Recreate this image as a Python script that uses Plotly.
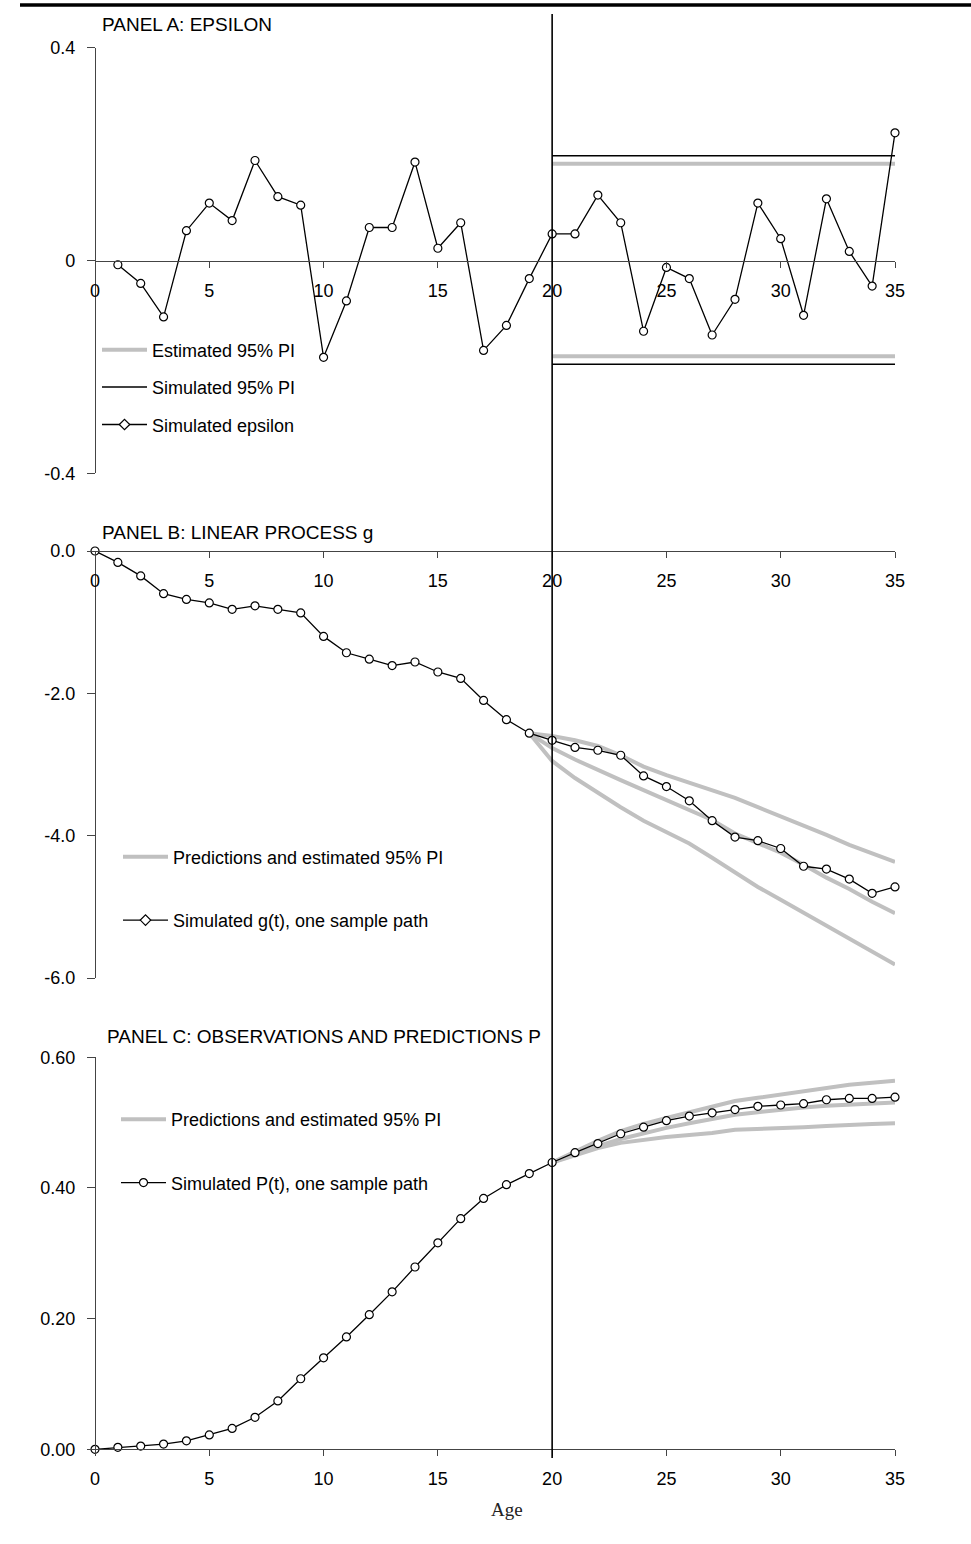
import plotly.graph_objects as go

# ---------------------------------------------------------------- data
ages = list(range(0, 36))
eps_ages = list(range(1, 36))
forecast_origin = 20

# Panel A: simulated epsilon and its prediction intervals
epsilon = [-0.008, -0.043, -0.106, 0.056, 0.108, 0.075, 0.188, 0.120, 0.104,
           -0.182, -0.076, 0.062, 0.062, 0.185, 0.023, 0.071, -0.169, -0.122,
           -0.034, 0.050, 0.050, 0.123, 0.071, -0.133, -0.013, -0.034, -0.140,
           -0.073, 0.108, 0.041, -0.103, 0.116, 0.017, -0.048, 0.240]
pi_ages = [20, 35]
est_pi_upper = [0.182, 0.182]
est_pi_lower = [-0.180, -0.180]
sim_pi_upper = [0.197, 0.197]
sim_pi_lower = [-0.195, -0.195]

# Panel B: linear process g
g_path = [0.00, -0.16, -0.35, -0.60, -0.68, -0.73, -0.82, -0.77, -0.82, -0.87,
          -1.20, -1.43, -1.52, -1.61, -1.56, -1.70, -1.79, -2.10, -2.37, -2.56,
          -2.66, -2.76, -2.80, -2.87, -3.16, -3.31, -3.51, -3.79, -4.02, -4.07,
          -4.18, -4.43, -4.47, -4.61, -4.81, -4.72]
g_pred_ages = list(range(19, 36))
g_pred_upper = [-2.56, -2.60, -2.66, -2.74, -2.87, -3.03, -3.15, -3.26, -3.36,
                -3.47, -3.60, -3.73, -3.85, -3.99, -4.13, -4.25, -4.37]
g_pred_mid = [-2.56, -2.77, -2.93, -3.08, -3.22, -3.36, -3.50, -3.64, -3.78,
              -3.97, -4.11, -4.24, -4.41, -4.59, -4.75, -4.93, -5.09]
g_pred_lower = [-2.56, -2.95, -3.19, -3.40, -3.60, -3.79, -3.95, -4.11, -4.31,
                -4.51, -4.72, -4.90, -5.08, -5.27, -5.45, -5.63, -5.81]

# Panel C: observations and predictions P
p_path = [0.000, 0.003, 0.005, 0.008, 0.013, 0.022, 0.032, 0.049, 0.074, 0.108,
          0.140, 0.172, 0.206, 0.241, 0.279, 0.316, 0.353, 0.384, 0.405, 0.422,
          0.439, 0.454, 0.468, 0.483, 0.493, 0.503, 0.510, 0.515, 0.520, 0.525,
          0.527, 0.529, 0.535, 0.537, 0.537, 0.539]
p_pred_ages = list(range(20, 36))
p_pred_upper = [0.439, 0.456, 0.472, 0.487, 0.498, 0.507, 0.516, 0.525, 0.533,
                0.538, 0.543, 0.548, 0.553, 0.558, 0.561, 0.564]
p_pred_mid = [0.439, 0.452, 0.464, 0.475, 0.484, 0.492, 0.499, 0.506, 0.512,
              0.516, 0.520, 0.523, 0.526, 0.528, 0.530, 0.531]
p_pred_lower = [0.439, 0.450, 0.461, 0.469, 0.474, 0.478, 0.481, 0.484, 0.489,
                0.490, 0.491, 0.493, 0.495, 0.497, 0.498, 0.499]

x_ticks = [0, 5, 10, 15, 20, 25, 30, 35]
a_ticks, a_text = [-0.4, 0, 0.4], ["-0.4", "0", "0.4"]
b_ticks, b_text = [-6, -4, -2, 0], ["-6.0", "-4.0", "-2.0", "0.0"]
c_ticks, c_text = [0, 0.2, 0.4, 0.6], ["0.00", "0.20", "0.40", "0.60"]

# ---------------------------------------------------------------- style
W, H = 971, 1544
FONT = "Liberation Sans, Arial, sans-serif"
GRAY = "#c0c0c0"
AXIS = "#444444"


def fx(px):
    return px / W


def fy(px):
    return 1 - px / H


gray_line = dict(color=GRAY, width=4)
black_line = dict(color="black", width=1.3)
circle_marker = dict(symbol="circle", size=8, color="white",
                     line=dict(color="black", width=1.2))
diamond_marker = dict(symbol="diamond", size=8, color="white",
                      line=dict(color="black", width=1.2))

fig = go.Figure()

# ---- Panel A
fig.add_trace(go.Scatter(x=pi_ages, y=est_pi_upper, mode="lines", line=gray_line,
                         name="Estimated 95% PI", legend="legend", legendgroup="a1",
                         legendrank=1, xaxis="x", yaxis="y"))
fig.add_trace(go.Scatter(x=pi_ages, y=est_pi_lower, mode="lines", line=gray_line,
                         showlegend=False, legendgroup="a1", xaxis="x", yaxis="y"))
fig.add_trace(go.Scatter(x=pi_ages, y=sim_pi_upper, mode="lines", line=dict(color="black", width=1.5),
                         name="Simulated 95% PI", legend="legend", legendgroup="a2",
                         legendrank=2, xaxis="x", yaxis="y"))
fig.add_trace(go.Scatter(x=pi_ages, y=sim_pi_lower, mode="lines", line=dict(color="black", width=1.5),
                         showlegend=False, legendgroup="a2", xaxis="x", yaxis="y"))
fig.add_trace(go.Scatter(x=eps_ages, y=epsilon, mode="lines+markers", line=black_line,
                         marker=circle_marker, showlegend=False, cliponaxis=False,
                         xaxis="x", yaxis="y"))
fig.add_trace(go.Scatter(x=[None], y=[None], mode="lines+markers", line=black_line,
                         marker=diamond_marker, name="Simulated epsilon", legend="legend",
                         legendgroup="a3", legendrank=3, xaxis="x", yaxis="y"))

# ---- Panel B
for i, band in enumerate([g_pred_upper, g_pred_mid, g_pred_lower]):
    fig.add_trace(go.Scatter(x=g_pred_ages, y=band, mode="lines", line=gray_line,
                             name="Predictions and estimated 95% PI", legend="legend2",
                             legendgroup="b1", legendrank=1, showlegend=(i == 0),
                             xaxis="x2", yaxis="y2"))
fig.add_trace(go.Scatter(x=ages, y=g_path, mode="lines+markers", line=black_line,
                         marker=circle_marker, showlegend=False, cliponaxis=False,
                         xaxis="x2", yaxis="y2"))
fig.add_trace(go.Scatter(x=[None], y=[None], mode="lines+markers", line=black_line,
                         marker=diamond_marker, name="Simulated g(t), one sample path",
                         legend="legend2", legendgroup="b2", legendrank=2,
                         xaxis="x2", yaxis="y2"))

# ---- Panel C
for i, band in enumerate([p_pred_upper, p_pred_mid, p_pred_lower]):
    fig.add_trace(go.Scatter(x=p_pred_ages, y=band, mode="lines", line=gray_line,
                             name="Predictions and estimated 95% PI", legend="legend3",
                             legendgroup="c1", legendrank=1, showlegend=(i == 0),
                             xaxis="x3", yaxis="y3"))
fig.add_trace(go.Scatter(x=ages, y=p_path, mode="lines+markers", line=black_line,
                         marker=circle_marker, name="Simulated P(t), one sample path",
                         legend="legend3", legendgroup="c2", legendrank=2,
                         cliponaxis=False, xaxis="x3", yaxis="y3"))

# ---------------------------------------------------------------- axes
x_dom = [fx(95), fx(895)]


def x_axis(pos_px):
    return dict(domain=x_dom, range=[0, 35], anchor="free", position=fy(pos_px),
                side="bottom", tickvals=x_ticks, ticks="outside", ticklen=6,
                tickcolor=AXIS, showline=True, linecolor=AXIS, linewidth=1.2,
                showgrid=False, zeroline=False, ticklabelstandoff=7,
                automargin=False,
                tickfont=dict(family=FONT, size=18, color="black"))


def y_axis(top_px, bot_px, rng, vals, text):
    return dict(domain=[fy(bot_px), fy(top_px)], range=rng, anchor="free",
                position=fx(95), tickvals=vals, ticktext=text, ticks="outside",
                ticklen=8, tickcolor=AXIS, showline=True, linecolor=AXIS,
                linewidth=1.2, showgrid=False, zeroline=False, ticklabelstandoff=8,
                automargin=False,
                tickfont=dict(family=FONT, size=18, color="black"))


legend_common = dict(xanchor="left", yanchor="top", bgcolor="rgba(0,0,0,0)",
                     borderwidth=0, itemwidth=45,
                     font=dict(family=FONT, size=18, color="black"))

fig.update_layout(
    width=W, height=H, autosize=False,
    margin=dict(l=0, r=0, t=0, b=0, pad=0, autoexpand=False),
    paper_bgcolor="white", plot_bgcolor="rgba(0,0,0,0)",
    xaxis=x_axis(261), xaxis2=x_axis(551), xaxis3=x_axis(1449.3),
    yaxis=y_axis(47.7, 473.3, [-0.4, 0.4], a_ticks, a_text),
    yaxis2=y_axis(551, 978, [-6, 0], b_ticks, b_text),
    yaxis3=y_axis(1057.3, 1449.3, [0, 0.6], c_ticks, c_text),
    legend=dict(x=fx(97), y=fy(331.5), tracegroupgap=11, **legend_common),
    legend2=dict(x=fx(118), y=fy(838.5), tracegroupgap=37, **legend_common),
    legend3=dict(x=fx(116), y=fy(1101), tracegroupgap=37, **legend_common),
    shapes=[
        dict(type="line", xref="paper", yref="paper", x0=fx(20), x1=1,
             y0=fy(5), y1=fy(5), line=dict(color="black", width=3.5)),
        dict(type="line", xref="x", yref="paper", x0=forecast_origin,
             x1=forecast_origin, y0=fy(1458), y1=fy(14),
             line=dict(color="black", width=1.6)),
    ],
    annotations=[
        dict(text="PANEL A: EPSILON", x=fx(100), y=fy(25)),
        dict(text="PANEL B: LINEAR PROCESS g", x=fx(100), y=fy(532)),
        dict(text="PANEL C: OBSERVATIONS AND PREDICTIONS P", x=fx(105), y=fy(1036)),
    ],
    showlegend=True,
)
for ann in fig.layout.annotations:
    ann.update(xref="paper", yref="paper", xanchor="left", yanchor="middle",
               showarrow=False, font=dict(family=FONT, size=19, color="black"))

fig.add_annotation(text="Age", xref="paper", yref="paper", x=fx(507), y=fy(1509),
                   xanchor="center", yanchor="middle", showarrow=False,
                   font=dict(family="Liberation Serif, Times New Roman, serif",
                             size=19, color="#222222"))

fig.write_html("out.html")
